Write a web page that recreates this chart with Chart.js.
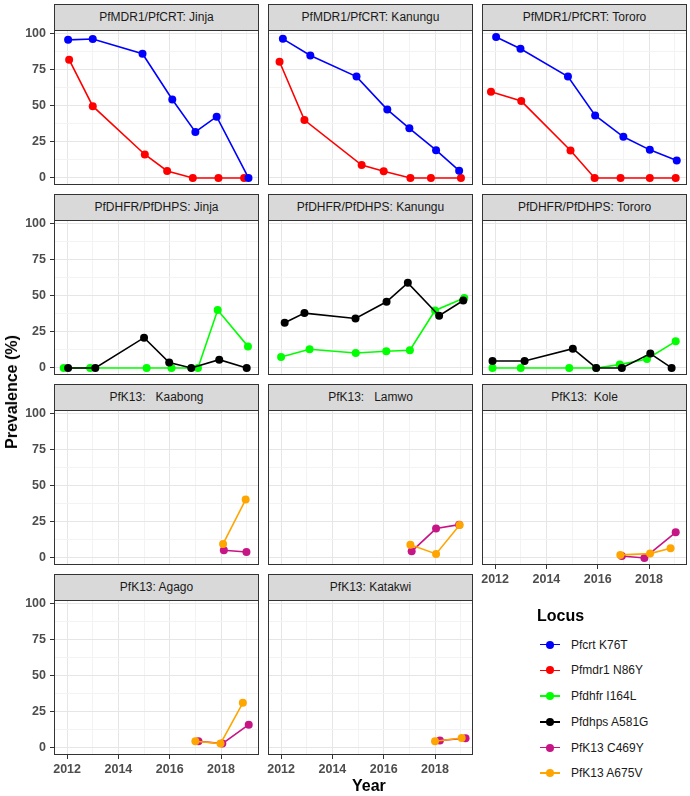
<!DOCTYPE html>
<html lang="en">
<head>
<meta charset="UTF-8">
<title>Prevalence of resistance markers</title>
<script src="https://cdn.jsdelivr.net/npm/chart.js"></script>
<style>
  body { margin: 0; background: #fff; font-family: "Liberation Sans", Arial, sans-serif; }
  #page { position: relative; width: 690px; height: 796px; overflow: hidden; }
  #page canvas { position: absolute; }
  .strip { position: absolute; box-sizing: border-box; height: 27px; background: #d9d9d9; border: 1px solid #333;
           font-size: 12px; line-height: 25px; color: #1a1a1a; text-align: center; white-space: pre; }
  .axis-title { position: absolute; font-size: 16px; font-weight: bold; color: #000; white-space: nowrap; }
  .leg-key { position: absolute; width: 20px; height: 1.6px; }
  .leg-dot { position: absolute; width: 8px; height: 8px; border-radius: 50%; }
  .leg-text { position: absolute; font-size: 12px; color: #1a1a1a; line-height: 14px; white-space: nowrap; }
</style>
</head>
<body>
<div id="page"></div>
<script>
  const locusNames = ['Pfcrt K76T', 'Pfmdr1 N86Y', 'Pfdhfr I164L', 'Pfdhps A581G', 'PfK13 C469Y', 'PfK13 A675V'];
  const locusColors = ['#0000ff', '#ff0000', '#00ff00', '#000000', '#c71585', '#ffa500'];
  const locusOrder = [1, 2, 4, 3, 6, 5];

  const panelTitles = [
    'PfMDR1/PfCRT: Jinja', 'PfMDR1/PfCRT: Kanungu', 'PfMDR1/PfCRT: Tororo',
    'PfDHFR/PfDHPS: Jinja', 'PfDHFR/PfDHPS: Kanungu', 'PfDHFR/PfDHPS: Tororo',
    'PfK13:   Kaabong', 'PfK13:   Lamwo', 'PfK13:  Kole',
    'PfK13: Agago', 'PfK13: Katakwi'
  ];

  const xGridValues = [2012, 2013, 2014, 2015, 2016, 2017, 2018, 2019];
  const yGridValues = [0, 12.5, 25, 37.5, 50, 62.5, 75, 87.5, 100];

  // [year, prevalence %]
  const jinjaK76T = [[2012.04, 95.4], [2013.0, 96.0], [2014.94, 85.8], [2016.1, 54.2], [2017.0, 31.8], [2017.83, 42.3], [2019.07, 0]];
  const jinjaN86Y = [[2012.08, 81.7], [2013.0, 49.6], [2015.03, 16.2], [2015.9, 4.8], [2016.9, 0], [2017.9, 0], [2018.9, 0]];
  const kanunguK76T = [[2012.07, 96.1], [2013.14, 84.6], [2014.94, 70.0], [2016.14, 47.2], [2017.0, 34.3], [2018.04, 19.2], [2018.94, 5.0]];
  const kanunguN86Y = [[2011.94, 80.3], [2012.91, 40.0], [2015.14, 8.9], [2016.0, 4.6], [2017.04, 0], [2017.84, 0], [2019.01, 0]];
  const tororoK76T = [[2012.04, 97.3], [2012.99, 89.2], [2014.84, 70.0], [2015.9, 43.2], [2017.0, 28.4], [2018.03, 19.4], [2019.08, 12.1]];
  const tororoN86Y = [[2011.84, 59.5], [2013.02, 53.1], [2014.94, 19.0], [2015.88, 0], [2016.89, 0], [2018.03, 0], [2019.04, 0]];

  const jinjaI164L = [[2011.87, 0], [2012.9, 0], [2015.1, 0], [2016.07, 0], [2017.1, 0], [2017.87, 40.0], [2019.05, 14.9]];
  const jinjaA581G = [[2012.04, 0], [2013.1, 0], [2015.0, 20.9], [2015.98, 3.7], [2016.84, 0], [2017.93, 5.7], [2019.0, 0]];
  const kanunguI164L = [[2012.0, 7.6], [2013.11, 12.9], [2014.91, 10.3], [2016.1, 11.5], [2017.02, 12.2], [2018.0, 39.7], [2019.14, 48.3]];
  const kanunguA581G = [[2012.14, 31.2], [2012.91, 37.9], [2014.9, 34.2], [2016.11, 45.7], [2016.94, 58.8], [2018.16, 36.1], [2019.1, 46.6]];
  const tororoI164L = [[2011.9, 0], [2013.0, 0], [2014.89, 0], [2015.94, 0], [2016.86, 2.3], [2017.92, 6.2], [2019.04, 18.4]];
  const tororoA581G = [[2011.9, 4.8], [2013.15, 4.8], [2015.03, 13.3], [2015.94, 0], [2016.94, 0], [2018.05, 9.9], [2018.88, 0]];

  const kaabongC469Y = [[2018.11, 5.3], [2018.99, 4.1]];
  const kaabongA675V = [[2018.08, 9.7], [2018.96, 40.3]];
  const lamwoC469Y = [[2017.09, 4.6], [2018.04, 20.3], [2018.94, 23.0]];
  const lamwoA675V = [[2017.04, 9.2], [2018.04, 2.8], [2018.96, 22.8]];
  const koleC469Y = [[2016.94, 1.4], [2017.82, 0], [2019.04, 17.7]];
  const koleA675V = [[2016.88, 2.1], [2018.04, 3.0], [2018.84, 6.7]];
  const agagoC469Y = [[2017.12, 4.6], [2018.05, 3.0], [2019.08, 16.1]];
  const agagoA675V = [[2017.0, 4.6], [2017.98, 3.0], [2018.85, 31.2]];
  const katakwiC469Y = [[2018.19, 5.1], [2019.19, 6.7]];
  const katakwiA675V = [[2018.0, 4.6], [2019.04, 6.9]];

  // locus index + points, per facet
  const panelSeries = [
    [[0, jinjaK76T], [1, jinjaN86Y]],
    [[0, kanunguK76T], [1, kanunguN86Y]],
    [[0, tororoK76T], [1, tororoN86Y]],
    [[2, jinjaI164L], [3, jinjaA581G]],
    [[2, kanunguI164L], [3, kanunguA581G]],
    [[2, tororoI164L], [3, tororoA581G]],
    [[4, kaabongC469Y], [5, kaabongA675V]],
    [[4, lamwoC469Y], [5, lamwoA675V]],
    [[4, koleC469Y], [5, koleA675V]],
    [[4, agagoC469Y], [5, agagoA675V]],
    [[4, katakwiC469Y], [5, katakwiA675V]]
  ];

  const colLeft = [54, 268, 482];
  const rowTop = [4, 194, 384, 574];
  const panelW = 205, panelH = 155, stripH = 26;
  const page = document.getElementById('page');

  Chart.defaults.font.family = '"Liberation Sans", Arial, sans-serif';

  const framePlugin = {
    id: 'frame',
    afterDraw(chart) {
      const { ctx, chartArea: a } = chart;
      ctx.save();
      ctx.strokeStyle = '#333';
      ctx.lineWidth = 1;
      ctx.strokeRect(a.left + 0.5, a.top + 0.5, a.width - 1, a.height - 1);
      ctx.restore();
    }
  };

  const gridColor = (majors) => ctx => majors.includes(ctx.tick && ctx.tick.value) ? '#e6e6e6' : '#f3f3f3';
  const tickMarkColor = (majors) => ctx => majors.includes(ctx.tick && ctx.tick.value) ? '#333' : 'rgba(0,0,0,0)';
  const tickFont = { size: 12.5, weight: 'bold' };

  panelSeries.forEach((series, i) => {
    const col = i % 3, row = Math.floor(i / 3);
    const showY = col === 0, showX = i >= 8;
    const padL = showY ? 54 : 20, padT = 10, padR = 6, padB = showX ? 30 : 4;

    const strip = document.createElement('div');
    strip.className = 'strip';
    strip.style.left = colLeft[col] + 'px';
    strip.style.top = rowTop[row] + 'px';
    strip.style.width = panelW + 'px';
    strip.textContent = panelTitles[i];
    page.appendChild(strip);

    const canvas = document.createElement('canvas');
    canvas.width = panelW + padL + padR;
    canvas.height = panelH + padT + padB;
    canvas.style.left = (colLeft[col] - padL) + 'px';
    canvas.style.top = (rowTop[row] + stripH - padT) + 'px';
    page.appendChild(canvas);

    new Chart(canvas, {
      type: 'scatter',
      data: {
        datasets: series.map(([k, pts]) => ({
          label: locusNames[k],
          data: pts.map(([x, y]) => ({ x, y })),
          showLine: true,
          borderColor: locusColors[k],
          backgroundColor: locusColors[k],
          borderWidth: 1.6,
          pointRadius: 4,
          pointBorderWidth: 0,
          order: locusOrder[k]
        }))
      },
      options: {
        responsive: false,
        animation: false,
        events: [],
        layout: { padding: { top: padT, right: padR, bottom: showX ? 0 : padB, left: showY ? 0 : padL } },
        plugins: { legend: { display: false }, tooltip: { enabled: false } },
        scales: {
          x: {
            type: 'linear', min: 2011.49, max: 2019.48,
            afterBuildTicks: s => { s.ticks = xGridValues.map(v => ({ value: v })); },
            afterFit: s => { s.height = showX ? 30 : 0; s.paddingLeft = 0; s.paddingRight = 0; },
            border: { display: false },
            grid: { color: gridColor([2012, 2014, 2016, 2018]), lineWidth: 1, drawTicks: showX, tickLength: 4,
                    tickColor: tickMarkColor([2012, 2014, 2016, 2018]), tickWidth: 1 },
            ticks: { display: showX, autoSkip: false, maxRotation: 0, padding: 3, color: '#4d4d4d', font: tickFont,
                     callback: v => v % 2 === 0 ? String(v) : '' }
          },
          y: {
            type: 'linear', min: -4.87, max: 102.2,
            afterBuildTicks: s => { s.ticks = yGridValues.map(v => ({ value: v })); },
            afterFit: s => { s.width = showY ? 54 : 0; s.paddingTop = 0; s.paddingBottom = 0; },
            border: { display: false },
            grid: { color: gridColor([0, 25, 50, 75, 100]), lineWidth: 1, drawTicks: showY, tickLength: 4,
                    tickColor: tickMarkColor([0, 25, 50, 75, 100]), tickWidth: 1 },
            ticks: { display: showY, autoSkip: false, padding: 4, color: '#4d4d4d', font: tickFont,
                     callback: v => v % 25 === 0 ? String(v) : '' }
          }
        }
      },
      plugins: [framePlugin]
    });
  });

  // axis titles
  const xTitle = document.createElement('div');
  xTitle.className = 'axis-title';
  xTitle.textContent = 'Year';
  xTitle.style.left = '352px';
  xTitle.style.top = '777px';
  page.appendChild(xTitle);

  const yTitle = document.createElement('div');
  yTitle.className = 'axis-title';
  yTitle.textContent = 'Prevalence (%)';
  yTitle.style.left = '12px';
  yTitle.style.top = '392px';
  yTitle.style.transform = 'translate(-50%, -50%) rotate(-90deg)';
  page.appendChild(yTitle);

  // legend
  const legTitle = document.createElement('div');
  legTitle.className = 'axis-title';
  legTitle.textContent = 'Locus';
  legTitle.style.left = '537px';
  legTitle.style.top = '607px';
  page.appendChild(legTitle);

  locusNames.forEach((name, k) => {
    const cy = 644.7 + k * 25.7;
    const key = document.createElement('div');
    key.className = 'leg-key';
    key.style.left = '540px';
    key.style.top = (cy - 0.8) + 'px';
    key.style.background = locusColors[k];
    page.appendChild(key);
    const dot = document.createElement('div');
    dot.className = 'leg-dot';
    dot.style.left = '546px';
    dot.style.top = (cy - 4) + 'px';
    dot.style.background = locusColors[k];
    page.appendChild(dot);
    const txt = document.createElement('div');
    txt.className = 'leg-text';
    txt.textContent = name;
    txt.style.left = '571px';
    txt.style.top = (cy - 7) + 'px';
    page.appendChild(txt);
  });
</script>
</body>
</html>
